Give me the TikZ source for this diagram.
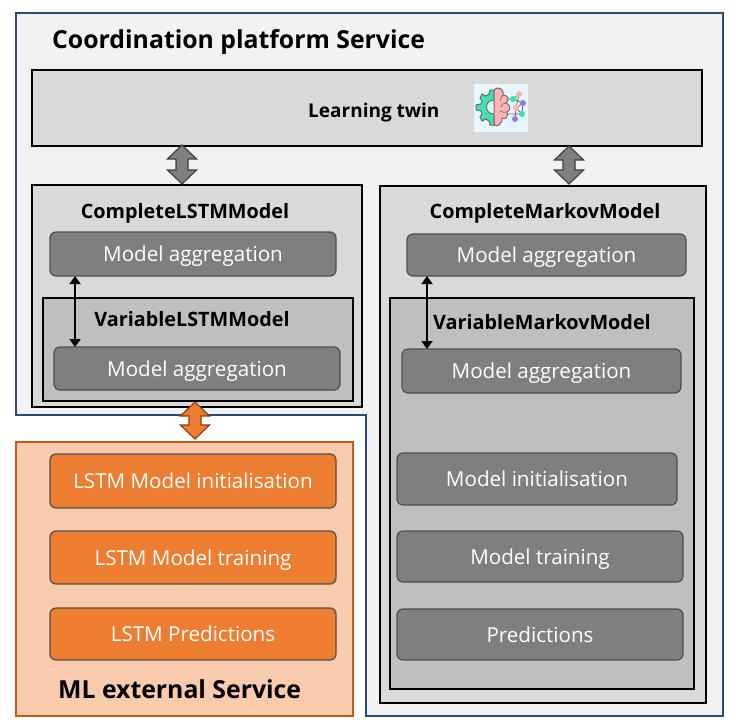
\documentclass[tikz,border=0pt]{standalone}
\usepackage{fontspec}
\setmainfont{Open Sans}
\usetikzlibrary{arrows.meta,calc}
\definecolor{navy}{HTML}{2F4A72}
\definecolor{svcbg}{HTML}{F2F2F2}
\definecolor{lgray}{HTML}{D9D9D9}
\definecolor{mgray}{HTML}{BFBFBF}
\definecolor{dgray}{HTML}{7F7F7F}
\definecolor{edgegray}{HTML}{4F4F4F}
\definecolor{peach}{HTML}{F8CBAD}
\definecolor{burnt}{HTML}{C55A11}
\definecolor{orng}{HTML}{ED7D31}
\definecolor{mint}{HTML}{40E0B0}
\definecolor{pinkb}{HTML}{FFB3B3}
\definecolor{violetn}{HTML}{8A7CF0}
\definecolor{iconbg}{HTML}{E6F7FE}
\definecolor{iconline}{HTML}{6E6E6E}
\tikzset{
  box/.style={draw=black,line width=1.6pt,anchor=north west,inner sep=0pt,outer sep=0pt},
  graybox/.style={box,fill=lgray},
  midbox/.style={box,fill=mgray},
  task/.style={draw=edgegray,line width=1.2pt,rounded corners=6pt,anchor=north west,inner sep=0pt,outer sep=0pt,fill=dgray,text=white,text height=20pt,text depth=4.5pt,font=\fontsize{20.6}{24}\selectfont},
  otask/.style={task,fill=orng},
  hd/.style={font=\fontsize{19.8}{23}\selectfont\bfseries,inner sep=0pt,text height=19pt,text depth=5pt},
  bighd/.style={font=\fontsize{24.8}{29}\selectfont\bfseries,inner sep=0pt,text height=24pt,text depth=6pt},
  thinarrow/.style={draw=black,line width=2.3pt,{Triangle[length=8pt,width=11pt]}-{Triangle[length=8pt,width=11pt]}},
  blockg/.style={draw=black!75,line width=1.2pt,fill=dgray},
  blocko/.style={draw=burnt!70!black,line width=1.2pt,fill=orng},
  net/.style={draw=iconline,line width=.8pt},
  iconshape/.style={draw=iconline,line width=1pt},
  dot/.style={circle,inner sep=0pt,minimum size=6pt}
}
\newcommand{\blockarrow}[3]{%
  \draw[#3] (#1) -- ($(#1)+(14.5,14)$) -- ($(#1)+(6,14)$) -- ($(#2)+(6,-14)$) -- ($(#2)+(14.5,-14)$) -- (#2)
   -- ($(#2)+(-14.5,-14)$) -- ($(#2)+(-6,-14)$) -- ($(#1)+(-6,14)$) -- ($(#1)+(-14.5,14)$) -- cycle;}
\begin{document}
\begin{tikzpicture}[x=1pt,y=-1pt]
\useasboundingbox (0,0) rectangle (738,726);
\fill[white] (0,0) rectangle (738,726);
% service outline
\draw[navy,line width=1.3pt,fill=svcbg] (16,13) -- (723,13) -- (723,716) -- (366,716) -- (366,415) -- (16,415) -- cycle;
\node[bighd,anchor=west] (title) at (52,39) {Coordination platform Service};
% learning twin
\node[graybox,minimum width=670pt,minimum height=76pt] (twin) at (32,70) {};
\node[hd,anchor=west,font=\fontsize{19}{23}\selectfont\bfseries] (twinlabel) at (308,110) {Learning twin};
% left column
\node[graybox,minimum width=330pt,minimum height=222pt] (cl) at (32,185) {};
\node[hd] (cllabel) at (185,211) {CompleteLSTMModel};
\node[task,minimum width=286pt,minimum height=44pt] (clagg) at (50,232) {Model aggregation};
\node[midbox,minimum width=310pt,minimum height=103pt] (vl) at (43,298) {};
\node[hd] (vllabel) at (192,319) {VariableLSTMModel};
\node[task,minimum width=286pt,minimum height=43pt] (vlagg) at (54,347) {Model aggregation};
% right column
\node[graybox,minimum width=326pt,minimum height=517pt] (cr) at (380,186) {};
\node[hd] (crlabel) at (545,211) {CompleteMarkovModel};
\node[task,minimum width=279pt,minimum height=42pt] (cragg) at (407,234) {Model aggregation};
\node[midbox,minimum width=304pt,minimum height=391pt] (vr) at (390,298) {};
\node[hd] (vrlabel) at (542,322) {VariableMarkovModel};
\node[task,minimum width=279pt,minimum height=44pt] (vragg) at (402,349) {Model aggregation};
\node[task,minimum width=280pt,minimum height=52pt] (vrinit) at (397,453) {Model initialisation};
\node[task,minimum width=286pt,minimum height=51pt] (vrtrain) at (397,531) {Model training};
\node[task,minimum width=286pt,minimum height=51pt] (vrpred) at (397,609) {Predictions};
% ML service
\node[anchor=north west,draw=burnt,line width=1.3pt,fill=peach,inner sep=0pt,outer sep=0pt,minimum width=337pt,minimum height=274pt] (ml) at (16,442) {};
\node[otask,minimum width=286pt,minimum height=54pt] (o1) at (50,454) {LSTM Model initialisation};
\node[otask,minimum width=286pt,minimum height=53pt] (o2) at (50,531) {LSTM Model training};
\node[otask,minimum width=286pt,minimum height=52pt] (o3) at (50,608) {LSTM Predictions};
\node[bighd,anchor=west] (mllabel) at (58,689) {ML external Service};
% thin connectors
\coordinate (lx) at (75,0);
\coordinate (rx) at (427,0);
\draw[thinarrow] (clagg.south -| lx) -- (vlagg.north -| lx);
\draw[thinarrow] (cragg.south -| rx) -- (vragg.north -| rx);
% block connectors
\coordinate (a1) at (182,145); \coordinate (b1) at (182,184);
\coordinate (a2) at (569,146); \coordinate (b2) at (569,184);
\coordinate (a3) at (195,402); \coordinate (b3) at (195,439);
\blockarrow{a1}{b1}{blockg}
\blockarrow{a2}{b2}{blockg}
\blockarrow{a3}{b3}{blocko}
% icon
\fill[iconbg] (474,84) rectangle (528,132);
\draw[net] (506,99) -- (513,99) -- (519,94) (513,99) -- (523,103) -- (522,114) -- (516,108) -- (523,103)
           (519,94) -- (516,108) -- (515,119) (506,114) -- (522,114);
\node[dot,fill=pinkb] (i1) at (519,94) {};
\node[dot,fill=mint] (i2) at (513,99) {};
\node[dot,fill=violetn] (i3) at (523,103) {};
\node[dot,fill=pinkb] (i4) at (516,108) {};
\node[dot,fill=mint] (i5) at (522,114) {};
\node[dot,fill=violetn] (i6) at (515,119) {};
% gear half
\draw[iconshape,fill=mint] (494,90) -- (490,90) -- (489,94) -- (486,96) -- (482,94) -- (480,98) -- (482,101)
   -- (481,104) -- (476,105) -- (476,110) -- (481,111) -- (482,114) -- (480,117) -- (482,121) -- (486,119)
   -- (489,121) -- (490,125) -- (494,125) -- cycle;
\fill[iconbg] (494,100) .. controls (484,100) and (484,114) .. (494,114) -- cycle;
\draw[iconshape] (494,100) .. controls (484,100) and (484,114) .. (494,114);
% brain half
\draw[iconshape,fill=pinkb] (494,90) .. controls (497,86) and (504,88) .. (503,95)
   .. controls (508,95) and (510,100) .. (506,103) .. controls (511,105) and (511,110) .. (507,112)
   .. controls (509,117) and (505,120) .. (502,118) .. controls (502,125) and (497,127) .. (494,125) -- cycle;
\draw[iconshape,line width=.7pt] (503,95) .. controls (501,97) and (500,99) .. (500,101)
   (506,103) .. controls (503,103) and (501,105) .. (501,107)
   (507,112) .. controls (504,113) and (502,112) .. (500,111);
\end{tikzpicture}
\end{document}
